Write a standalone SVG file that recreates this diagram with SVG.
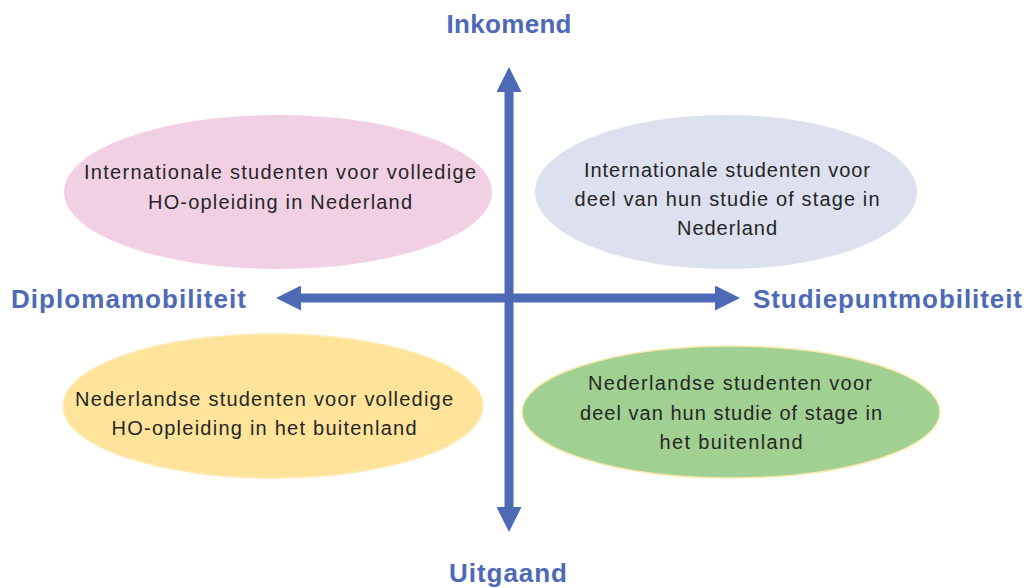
<svg xmlns="http://www.w3.org/2000/svg" width="1026" height="588" viewBox="0 0 1026 588">
<style>
.t{font-family:"Liberation Sans","Noto Sans",sans-serif;font-size:20px;fill:#262626;text-anchor:middle}
.ax{font-family:"Liberation Sans","Noto Sans",sans-serif;font-size:26px;font-weight:bold;fill:#4E69B5}
.ln{stroke:#4E69B5;stroke-width:9;fill:none}
</style>
<defs>
<marker id="ah" viewBox="0 0 25 25" refX="0" refY="12.5" markerWidth="25" markerHeight="25" markerUnits="userSpaceOnUse" orient="auto-start-reverse">
<path d="M0,0 L25,12.5 L0,25 z" fill="#4E69B5"/>
</marker>
</defs>
<rect width="1026" height="588" fill="#fff"/>
<g id="n-pink">
<ellipse cx="278" cy="192" rx="214" ry="77" fill="#F2D0E4"/>
<text class="t" x="280" y="179" textLength="392">Internationale studenten voor volledige</text>
<text class="t" x="280" y="209" textLength="264">HO-opleiding in Nederland</text>
</g>
<g id="n-blue">
<ellipse cx="726" cy="192" rx="191" ry="77" fill="#DCE0EF"/>
<text class="t" x="727" y="177" textLength="286">Internationale studenten voor</text>
<text class="t" x="727" y="206" textLength="305">deel van hun studie of stage in</text>
<text class="t" x="727" y="235" textLength="100">Nederland</text>
</g>
<g id="n-yellow">
<ellipse cx="273" cy="406" rx="210" ry="72" fill="#FEE49A" stroke="#FDEBB5" stroke-width="1.5"/>
<text class="t" x="264" y="406" textLength="378">Nederlandse studenten voor volledige</text>
<text class="t" x="264" y="435" textLength="305">HO-opleiding in het buitenland</text>
</g>
<g id="n-green">
<ellipse cx="731" cy="412" rx="209" ry="66" fill="#A0D192" stroke="#FDE9AE" stroke-width="1.5"/>
<text class="t" x="730" y="390" textLength="284">Nederlandse studenten voor</text>
<text class="t" x="731" y="420" textLength="302">deel van hun studie of stage in</text>
<text class="t" x="731" y="449" textLength="143">het buitenland</text>
</g>
<g id="connectors">
<line class="ln" x1="509" y1="92" x2="509" y2="507" marker-start="url(#ah)" marker-end="url(#ah)"/>
<line class="ln" x1="301" y1="298" x2="715" y2="298" marker-start="url(#ah)" marker-end="url(#ah)"/>
</g>
<g id="labels">
<text class="ax" x="509" y="33" text-anchor="middle" textLength="125">Inkomend</text>
<text class="ax" x="11" y="308" textLength="235">Diplomamobiliteit</text>
<text class="ax" x="753" y="308" textLength="269">Studiepuntmobiliteit</text>
<text class="ax" x="508" y="582" text-anchor="middle" textLength="118">Uitgaand</text>
</g>
</svg>
